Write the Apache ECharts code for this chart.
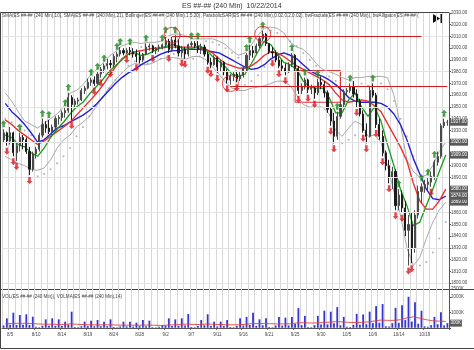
<!DOCTYPE html>
<html><head><meta charset="utf-8">
<script src="https://cdn.jsdelivr.net/npm/echarts@6/dist/echarts.min.js"></script>
<style>html,body{margin:0;padding:0;background:#fff}#c{width:474px;height:350px}</style>
</head><body><div id="c"></div>
<script>
// ---- sessions (one trading session per date) ----
const sessions = ['8/4','8/5','8/6','8/7','8/8','8/10','8/11','8/12','8/13','8/14','8/15','8/17','8/18','8/19','8/20','8/21','8/22','8/24','8/25','8/26','8/27','8/28','8/29','8/31','9/1','9/2','9/3','9/4','9/5','9/7','9/8','9/9','9/10','9/11','9/12','9/14','9/15','9/16','9/17','9/18','9/19','9/21','9/22','9/23','9/24','9/25','9/26','9/28','9/29','9/30','10/1','10/2','10/3','10/5','10/6','10/7','10/8','10/9','10/10','10/12','10/13','10/14','10/15','10/16','10/17','10/19','10/20','10/21','10/22'];
const labelDates = ['8/5','8/10','8/14','8/19','8/24','8/28','9/2','9/7','9/11','9/16','9/21','9/25','9/30','10/5','10/9','10/14','10/19'];

// ---- price bars (two bars per session) ----
const open = [1922,1928, 1921,1928, 1911,1917, 1924,1922, 1912,1897, 1910,1914, 1926,1935, 1932,1929, 1933,1940, 1941,1945,
1947,1958, 1952,1955, 1956,1964, 1966,1971, 1973,1970, 1978,1982, 1985,1987, 1986,1993, 1995,1998, 1996,1998,
1997,1995, 1993,1990, 1995,2001, 2002,1998, 2000,2001, 2003,2006, 1999,2007, 2002,1996, 1999,1995, 2003,2004,
2002,1999, 2001,1995, 1988,1986, 1992,1984, 1988,1980, 1973,1976, 1978,1974, 1977,1983, 1994,1998, 1996,2002,
2008,2012, 2004,1997, 1996,1990, 1985,1983, 1980,1986, 1994,1983, 1964,1967, 1973,1965, 1966,1962, 1971,1969,
1962,1948, 1938,1925, 1942,1952, 1963,1964, 1967,1961, 1955,1944, 1930,1925, 1964,1960, 1935,1925, 1911,1900,
1890,1895, 1866,1875, 1864,1845, 1850,1830, 1858,1878, 1882,1884, 1886,1891, 1903,1908, 1934,1937];
const high = [1931,1929, 1933,1929, 1920,1928, 1926,1924, 1916,1912, 1916,1928, 1940,1938, 1939,1935, 1942,1943, 1947,1949,
1962,1960, 1957,1958, 1966,1968, 1974,1975, 1976,1980, 1984,1987, 1991,1990, 1995,1997, 2001,2000, 2000,2001,
2000,1999, 1997,1996, 2004,2004, 2003,2001, 2003,2004, 2011,2008, 2010,2011, 2008,2002, 2001,2004, 2006,2006,
2006,2004, 2003,1997, 1992,1994, 1993,1990, 1989,1982, 1978,1980, 1981,1980, 1985,1996, 2003,2002, 2004,2010,
2015,2013, 2004,2001, 1998,1993, 1990,1987, 1988,1996, 1995,1985, 1970,1975, 1974,1969, 1968,1974, 1976,1972,
1964,1950, 1945,1946, 1955,1965, 1966,1970, 1972,1965, 1957,1947, 1936,1968, 1970,1962, 1940,1930, 1913,1905,
1899,1897, 1880,1879, 1870,1858, 1860,1862, 1883,1885, 1888,1890, 1895,1905, 1912,1936, 1940,1939];
const low = [1920,1917, 1918,1908, 1904,1912, 1914,1910, 1892,1895, 1906,1912, 1924,1928, 1927,1926, 1931,1935, 1938,1941,
1945,1939, 1949,1952, 1955,1961, 1965,1968, 1968,1969, 1975,1979, 1982,1983, 1984,1988, 1993,1994, 1995,1994,
1992,1988, 1987,1988, 1994,1998, 1996,1995, 1997,1999, 2000,1996, 1997,2000, 1993,1992, 1991,1993, 2001,2000,
1996,1995, 1993,1986, 1983,1985, 1979,1980, 1977,1970, 1969,1972, 1971,1972, 1975,1980, 1990,1992, 1995,2000,
2006,2002, 1995,1992, 1988,1983, 1980,1977, 1979,1984, 1980,1961, 1961,1965, 1962,1961, 1957,1960, 1965,1958,
1945,1934, 1919,1922, 1940,1950, 1960,1962, 1958,1950, 1942,1928, 1919,1924, 1958,1932, 1922,1908, 1896,1885,
1880,1862, 1862,1860, 1840,1815, 1817,1826, 1855,1868, 1877,1878, 1882,1888, 1900,1906, 1932,1934];
const close = [1928,1921, 1928,1911, 1917,1924, 1922,1912, 1897,1910, 1914,1926, 1935,1932, 1929,1933, 1940,1941, 1945,1947,
1958,1952, 1955,1956, 1964,1966, 1971,1973, 1970,1978, 1982,1985, 1987,1986, 1993,1995, 1998,1996, 1998,1997,
1995,1993, 1990,1995, 2001,2002, 1998,2000, 2001,2003, 2006,1999, 2007,2002, 1996,1999, 1995,2003, 2004,2002,
1999,2001, 1995,1988, 1986,1992, 1984,1988, 1980,1973, 1976,1978, 1974,1977, 1983,1994, 1998,1996, 2002,2008,
2012,2004, 1997,1996, 1990,1985, 1983,1980, 1986,1994, 1983,1964, 1967,1973, 1965,1966, 1962,1971, 1969,1962,
1948,1938, 1925,1942, 1952,1963, 1964,1967, 1961,1955, 1944,1930, 1925,1964, 1960,1935, 1925,1911, 1900,1890,
1895,1866, 1875,1864, 1845,1850, 1830,1858, 1878,1882, 1884,1886, 1891,1903, 1908,1934, 1937,1937];
const volume = [150,610, 200,975, 180,825, 190,870, 170,715, 60,40, 130,545, 140,610, 120,545, 110,395,
200,1040, 50,40, 100,395, 110,460, 100,500, 100,395, 110,545, 50,40, 90,395, 90,395,
80,330, 100,500, 100,460, 40,30, 60,180, 130,610, 120,545, 130,610, 150,890, 50,40,
110,500, 160,870, 110,395, 90,400, 110,500, 50,40, 120,610, 150,700, 180,975, 130,545,
160,610, 50,40, 150,700, 140,650, 150,700, 250,1270, 170,770, 50,40, 170,770, 220,1100,
220,1040, 300,1330, 160,700, 60,50, 190,900, 190,860, 230,1040, 300,1400, 330,1530, 100,80,
300,1290, 320,1460, 500,2000, 400,1650, 260,1100, 90,70, 170,700, 230,1000, 150,300];

// ---- indicators (one value per session) ----
const sma10 = [1926,1924,1918,1916,1911,1908,1915,1924,1931,1937,1944,1950,1954,1961,1967,1973,1980,1985,1990,1995,1996,1994,1995,1998,2000,2002,2003,2001,1999,2000,2002,1999,1993,1989,1984,1978,1976,1978,1987,1997,2006,2003,1995,1988,1986,1982,1972,1967,1966,1966,1958,1945,1945,1956,1962,1950,1942,1950,1938,1918,1900,1880,1866,1849,1852,1866,1880,1895,1909];
const sma21 = [1939,1935,1930,1926,1922,1918,1921,1925,1929,1933,1937,1943,1949,1955,1961,1968,1976,1984,1991,1995,1997,1998,1999,2000,2000,2001,2001,2001,2001,2001,2000,1999,1996,1991,1987,1985,1983,1983,1985,1989,1994,1997,1996,1993,1989,1985,1982,1979,1976,1973,1969,1962,1956,1954,1955,1956,1955,1951,1946,1936,1926,1916,1904,1885,1870,1863,1863,1870,1880];
const jaw = [1953,1946,1941,1935,1928,1920,1922,1927,1932,1934,1937,1940,1943,1947,1952,1958,1964,1970,1975,1979,1982,1986,1989,1992,1995,1997,1998,1998,1999,1999,1999,1998,1997,1996,1993,1990,1987,1984,1982,1983,1986,1991,1994,1996,1994,1991,1986,1981,1978,1976,1973,1969,1964,1958,1955,1954,1954,1954,1953,1950,1944,1935,1922,1906,1893,1880,1872,1871,1874];
const bbUpper = [1962,1955,1946,1938,1935,1932,1936,1940,1944,1950,1962,1964,1969,1976,1981,1987,1993,1997,2002,2004,2005,2004,2005,2005,2006,2010,2012,2012,2010,2008,2008,2008,2008,2006,2003,1998,1994,1996,2003,2011,2017,2018,2017,2013,2005,2001,1999,1994,1987,1982,1980,1978,1975,1973,1975,1975,1976,1976,1976,1975,1960,1935,1905,1895,1890,1892,1900,1912,1920];
const bbLower = [1908,1905,1902,1900,1897,1896,1898,1905,1915,1922,1926,1933,1937,1942,1950,1958,1966,1973,1979,1984,1987,1986,1986,1988,1991,1992,1992,1991,1991,1993,1993,1990,1984,1978,1971,1966,1964,1964,1966,1967,1968,1970,1972,1972,1968,1960,1952,1950,1950,1950,1944,1930,1925,1932,1938,1935,1925,1926,1920,1900,1878,1858,1830,1815,1822,1838,1852,1862,1869];
const sar = [1940,1937,1934,1930,1926,1891,1893,1897,1902,1908,1915,1925,1933,1942,1950,1958,1966,1973,1980,1985,1989,2001,1987,1989,1991,1993,1995,2011,2010,1991,1993,2006,2005,2003,2000,1996,1992,1969,1972,1977,1984,2015,2013,2010,2006,2002,1996,1990,1985,1980,1976,1972,1919,1922,1926,1970,1968,1920,1970,1965,1955,1940,1925,1908,1815,1818,1826,1838,1852];
const volMA = [260,280,290,290,280,250,230,230,220,210,250,230,200,200,190,190,195,180,170,170,165,170,175,165,150,170,190,210,240,220,210,240,230,210,200,190,200,220,270,270,280,260,250,250,260,310,330,310,310,340,360,400,380,350,340,350,380,440,500,480,480,520,640,700,620,520,450,430,410];

// ---- fractals: [bar index, price] ----
const fractalUp = [[0,1931],[5,1928],[12,1940],[14,1939],[19,1949],[20,1962],[27,1975],[29,1980],[31,1987],[35,1997],[36,2001],[39,2001],[44,2004],[49,2004],[50,2011],[53,2011],[58,2006],[60,2006],[75,1996],[76,2003],[80,2015],[89,1996],[93,1975],[97,1974],[103,1946],[107,1970],[114,1970],[122,1880],[129,1885],[131,1890],[133,1905],[136,1940]];
const fractalDown = [[1,1917],[3,1908],[4,1904],[8,1892],[21,1939],[28,1968],[30,1975],[33,1983],[38,1995],[41,1988],[46,1996],[51,1996],[55,1992],[56,1991],[63,1986],[64,1983],[66,1979],[69,1970],[72,1971],[83,1992],[85,1983],[87,1977],[91,1961],[94,1962],[96,1957],[101,1934],[102,1919],[109,1950],[111,1928],[112,1919],[115,1932],[117,1908],[119,1885],[121,1862],[123,1860],[125,1815],[126,1817],[132,1882]];

// ---- annotations ----
const levelPrices = [2010, 1968];
const levelStartBars = [52, 70];
const levelEndBars = [129, 137];
const circleBars = [52, 80, 70];
const circlePrices = [2011, 2012, 1970];
const boxBars = [90, 104];
const boxPrices = [1981, 1954];

// ---- axis ticks ----
const priceTicks = [1800,1810,1820,1830,1840,1850,1860,1870,1880,1890,1900,1910,1920,1930,1940,1950,1960,1970,1980,1990,2000,2010,2020,2030];
const priceGrid = [1800,1830,1860,1890,1920,1950,1980,2010];

const FONT = 'Liberation Sans';
const barCats = close.map((_, i) => sessions[Math.floor(i / 2)]);
const candle = close.map((c, i) => [open[i], c, low[i], high[i]]);

function tagLabel(dist) {
  return { show: true, distance: dist, formatter: p => Number(p.value).toFixed(2),
    backgroundColor: '#5a5a5a', color: '#fff', fontSize: 4.5, fontFamily: FONT, padding: [1, 1] };
}
function lineSeries(name, data, color, width, z, tag) {
  return { name, type: 'line', xAxisIndex: 1, yAxisIndex: 0, data, symbol: 'none', z,
    lineStyle: { color, width }, endLabel: tag ? tagLabel(4) : { show: false }, silent: true };
}
const upArrow = 'path://M5,0 L10,5 L7,5 L7,11 L3,11 L3,5 L0,5 Z';
const downArrow = 'path://M3,0 L7,0 L7,6 L10,6 L5,11 L0,6 L3,6 Z';

const chart = echarts.init(document.getElementById('c'));
chart.setOption({
  animation: false,
  backgroundColor: '#fff',
  title: [
    { text: 'ES ##-## (240 Min)  10/22/2014', left: 182, top: 3, padding: 0,
      textStyle: { fontSize: 7, fontWeight: 'normal', color: '#333', fontFamily: FONT } },
    { text: 'SMA(ES ##-## (240 Min),10), SMA(ES ##-## (240 Min),21), Bollinger(ES ##-## (240 Min),1.5,20), ParabolicSAR(ES ##-## (240 Min),0.02,0.2,0.02), bwFractals(ES ##-## (240 Min)), bwAlligator(ES ##-## (240 Min))',
      left: 2, top: 13, padding: 0,
      textStyle: { fontSize: 4.6, fontWeight: 'normal', color: '#444', fontFamily: FONT, width: 420, overflow: 'truncate', ellipsis: '' } },
    { text: 'VOL(ES ##-## (240 Min)), VOLMA(ES ##-## (240 Min),14)', left: 2, top: 294, padding: 0,
      textStyle: { fontSize: 4.6, fontWeight: 'normal', color: '#444', fontFamily: FONT } }
  ],
  grid: [
    { left: 2, right: 25, top: 13, height: 276 },
    { left: 2, right: 25, top: 289, height: 38.8 }
  ],
  xAxis: [
    { type: 'category', gridIndex: 0, data: barCats, boundaryGap: true,
      axisLine: { show: false }, axisTick: { show: false }, axisLabel: { show: false },
      splitLine: { show: true, interval: i => i % 2 === 0, lineStyle: { color: '#d8d8d8', width: 1 } } },
    { type: 'category', gridIndex: 0, data: sessions, boundaryGap: true, show: false },
    { type: 'category', gridIndex: 1, data: barCats, boundaryGap: true,
      axisLine: { show: true, lineStyle: { color: '#555' } },
      axisTick: { show: true, length: 2, interval: (i, v) => i % 2 === 0 && labelDates.includes(v), lineStyle: { color: '#555' } },
      axisLabel: { show: true, interval: (i, v) => i % 2 === 0 && labelDates.includes(v), fontSize: 4.5, color: '#444', fontFamily: FONT, margin: 4 },
      splitLine: { show: true, interval: i => i % 2 === 0, lineStyle: { color: '#d8d8d8', width: 1 } } },
    { type: 'category', gridIndex: 1, data: sessions, boundaryGap: true, show: false }
  ],
  yAxis: [
    { type: 'value', gridIndex: 0, position: 'right', min: 1795, max: 2030,
      axisLine: { show: true, lineStyle: { color: '#555' } },
      axisTick: { show: true, length: 2, customValues: priceTicks, lineStyle: { color: '#555' } },
      axisLabel: { customValues: priceTicks, formatter: v => v.toFixed(2), fontSize: 4.5, color: '#444', fontFamily: FONT, margin: 2 },
      splitLine: { show: false } },
    { type: 'value', gridIndex: 1, position: 'right', min: 0, max: 2500, interval: 1000,
      axisLine: { show: true, lineStyle: { color: '#555' } },
      axisTick: { show: true, length: 2, lineStyle: { color: '#555' } },
      axisLabel: { formatter: v => v === 0 ? '' : v + 'K', fontSize: 4.5, color: '#444', fontFamily: FONT, margin: 2 },
      splitLine: { show: false } }
  ],
  series: [
    { name: 'closeTag', type: 'line', xAxisIndex: 0, yAxisIndex: 0, data: close, symbol: 'none', z: 1,
      lineStyle: { opacity: 0 }, endLabel: tagLabel(2), silent: true,
      markLine: { silent: true, symbol: ['none', 'none'], label: { show: false },
        lineStyle: { color: '#e2e2e2', type: 'solid', width: 1 },
        data: priceGrid.map(v => ({ yAxis: v })) } },
    lineSeries('bbUpper', bbUpper, '#a9a9a9', 1, 2, true),
    lineSeries('bbLower', bbLower, '#a9a9a9', 1, 2, true),
    lineSeries('jaw', jaw, '#2222d4', 1.4, 3, true),
    lineSeries('sma21', sma21, '#e82a2a', 1.3, 3, true),
    lineSeries('sma10', sma10, '#1d9a1d', 1.3, 3, true),
    { name: 'sar', type: 'scatter', xAxisIndex: 1, yAxisIndex: 0, data: sar, symbol: 'circle', symbolSize: 2, z: 2,
      itemStyle: { color: '#a0a0a0' }, silent: true },
    { name: 'price', type: 'candlestick', xAxisIndex: 0, yAxisIndex: 0, data: candle, z: 4, barMaxWidth: 1.8,
      itemStyle: { color: '#4a4a4a', color0: '#1c1c1c', borderColor: '#4a4a4a', borderColor0: '#1c1c1c', borderWidth: 1 }, silent: true },
    { name: 'fractalUp', type: 'scatter', xAxisIndex: 0, yAxisIndex: 0, data: fractalUp, symbol: upArrow,
      symbolSize: [6, 7], symbolOffset: [0, -5.5], itemStyle: { color: '#1a8a1a' }, z: 5, silent: true },
    { name: 'fractalDown', type: 'scatter', xAxisIndex: 0, yAxisIndex: 0, data: fractalDown, symbol: downArrow,
      symbolSize: [6, 7], symbolOffset: [0, 5.5], itemStyle: { color: '#e0101c' }, z: 5, silent: true },
    { name: 'marks', type: 'scatter', xAxisIndex: 0, yAxisIndex: 0, z: 6, silent: true,
      data: circleBars.map((b, i) => [b, circlePrices[i]]), symbol: 'circle', symbolSize: 16,
      itemStyle: { color: 'rgba(0,0,0,0)', borderColor: '#e02020', borderWidth: 1 },
      markLine: { silent: true, symbol: ['none', 'none'], label: { show: false },
        lineStyle: { color: '#d41a1a', type: 'solid', width: 1.2 },
        data: levelPrices.map((p, i) => [{ coord: [levelStartBars[i], p] }, { coord: [levelEndBars[i], p] }]) },
      markArea: { silent: true, itemStyle: { color: 'rgba(0,0,0,0)', borderColor: '#e03030', borderWidth: 1 },
        data: [[{ coord: [boxBars[0], boxPrices[0]] }, { coord: [boxBars[1], boxPrices[1]] }]] } },
    { name: 'vol', type: 'bar', xAxisIndex: 2, yAxisIndex: 1, data: volume, barMaxWidth: 1.8,
      itemStyle: { color: '#3535cc' }, silent: true },
    { name: 'volTag', type: 'line', xAxisIndex: 2, yAxisIndex: 1, data: volume, symbol: 'none',
      lineStyle: { opacity: 0 }, silent: true,
      endLabel: { show: true, distance: 2, formatter: p => p.value + 'K', backgroundColor: '#5a5a5a', color: '#fff', fontSize: 4.5, fontFamily: FONT, padding: [1, 1] } },
    { name: 'volMA', type: 'line', xAxisIndex: 3, yAxisIndex: 1, data: volMA, symbol: 'none',
      lineStyle: { color: '#e04040', width: 0.9 }, silent: true }
  ],
  graphic: [
    { type: 'polyline', silent: true, shape: { points: [[449, 12.5], [0.5, 12.5], [0.5, 348.5], [474, 348.5]] }, style: { stroke: '#444', lineWidth: 1, fill: null } },
    { type: 'line', silent: true, shape: { x1: 0.5, y1: 289.5, x2: 474, y2: 289.5 }, style: { stroke: '#444', lineWidth: 1 } },
    { type: 'polygon', silent: true, shape: { points: [[433, 14], [433, 23], [440, 18.5]] }, style: { fill: '#111' } },
    { type: 'rect', silent: true, shape: { x: 440.5, y: 14, width: 2, height: 9 }, style: { fill: '#111' } }
  ]
});
</script></body></html>
